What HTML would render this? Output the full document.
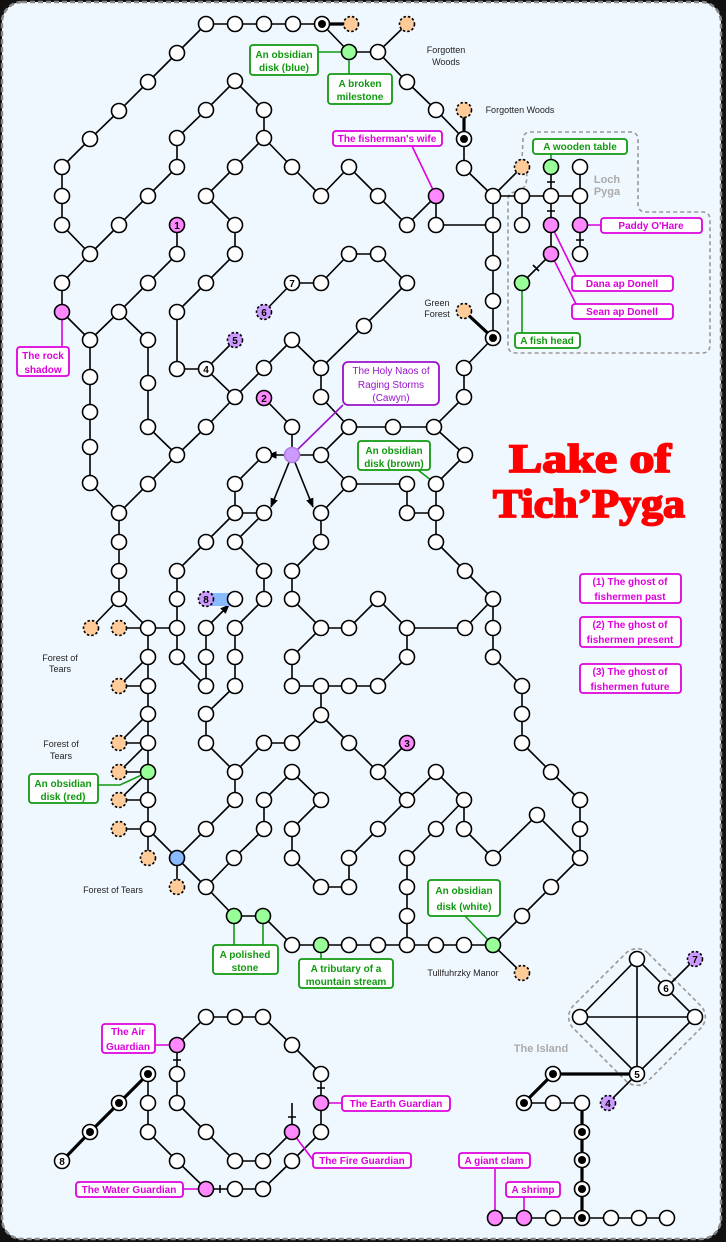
<!DOCTYPE html>
<html><head><meta charset="utf-8"><style>
html,body{margin:0;padding:0;background:#fff;}
svg{display:block;}
circle{fill:#fff;stroke:#000;stroke-width:1.6;}
circle.p{fill:#ff88ff;}
circle.g{fill:#99ff99;}
circle.o{fill:#ffcc99;stroke-dasharray:2.5 2;}
circle.v{fill:#cc99ff;stroke-dasharray:2.5 2;}
circle.b{fill:#88bbff;}
circle.vp{fill:#cc99ff;stroke:#b080e0;}
circle.dot{fill:#000;stroke:none;}
.e{fill:none;stroke:#000;stroke-width:1.6;}
.t{fill:none;stroke:#000;stroke-width:3.2;}
text{font-family:"Liberation Sans",sans-serif;}
.n{font-size:10px;font-weight:bold;text-anchor:middle;}
.lp rect{fill:#fff;stroke:#dd00dd;stroke-width:1.8;}
.lp text{fill:#dd00dd;font-size:10px;font-weight:bold;text-anchor:middle;}
.lg rect{fill:#fff;stroke:#119911;stroke-width:1.8;}
.lg text{fill:#119911;font-size:10px;font-weight:bold;text-anchor:middle;}
.lv rect{fill:#fff;stroke:#9911cc;stroke-width:1.8;}
.lv text{fill:#9911cc;font-size:10px;text-anchor:middle;}
.pl{stroke:#dd00dd;stroke-width:1.6;fill:none;}
.gl{stroke:#119911;stroke-width:1.6;fill:none;}
.vl{stroke:#9911cc;stroke-width:1.6;fill:none;}
.pl2{font-size:9px;fill:#222;text-anchor:middle;}
text.title{font-family:"Liberation Serif",serif;font-weight:bold;font-size:40px;fill:#ff0000;stroke:#ff0000;stroke-width:1.8px;text-anchor:middle;}
</style></head><body>
<svg width="726" height="1242" viewBox="0 0 726 1242" xmlns="http://www.w3.org/2000/svg">
<defs><marker id="ar" viewBox="0 0 10 10" refX="9" refY="5" markerWidth="6" markerHeight="6" orient="auto"><path d="M0,1 L10,5 L0,9 z" fill="#000"/></marker></defs>
<rect x="0" y="0" width="726" height="1242" fill="#111"/>
<rect x="2" y="2" width="719" height="1237" rx="20" fill="#f0f8ff" stroke="#888" stroke-width="2.5" stroke-dasharray="5 3"/>

<path d="M516,192 C528,190 530,175 522,160 L523,140 Q523,132 531,132 L630,132 Q638,132 638,140 L638,204 Q638,212 646,212 L702,212 Q710,212 710,220 L710,345 Q710,353 702,353 L516,353 Q508,353 508,345 L508,200 Q508,192 516,192 Z" fill="none" stroke="#999" stroke-width="1.6" stroke-dasharray="4 3"/>
<text x="607" y="183" font-size="11" font-weight="bold" fill="#aaa" text-anchor="middle">Loch</text>
<text x="607" y="195" font-size="11" font-weight="bold" fill="#aaa" text-anchor="middle">Pyga</text>
<rect x="584" y="964" width="106" height="106" rx="16" transform="rotate(45 637 1017)" fill="none" stroke="#999" stroke-width="1.6" stroke-dasharray="4 3"/>
<text x="541" y="1052" font-size="11" font-weight="bold" fill="#aaa" text-anchor="middle">The Island</text>

<path class="e" d="M206,24 L322,24
M206,24 L177,53 L148,82 L119,111 L90,139 L62,167 L62,196 L62,225 L90,254 L62,283 L62,312 L90,340 L90,377 L90,412 L90,447 L90,483 L119,513 L119,542 L119,571 L119,599 L148,628 L177,628
M90,254 L119,225 L148,196 L177,167 L177,138 L206,110 L235,81 L264,110 L264,138 L235,167 L206,196 L235,225 L235,254 L206,283 L177,312 L177,369 L206,369 L235,340
M206,369 L235,397 L264,368 L292,340 L321,368 L321,397 L349,427 L393,427 L434,427 L464,397 L464,368 L493,338
M90,340 L119,312 L148,283 L177,254 L177,225
M119,312 L148,340 L148,383 L148,427 L177,455 L148,484 L119,513
M177,455 L206,427 L235,397
M264,138 L292,167 L321,196 L349,167 L378,196 L407,225 L436,196 L436,225 L493,225
M264,312 L292,283 L321,283 L349,254 L378,254 L407,283 L364,326 L321,368
M264,398 L292,427 L292,455 L321,455 L349,427
M321,455 L349,484 L407,484 L407,513 L436,513 L436,484 L465,455 L434,427
M349,484 L321,513 L321,542 L292,571 L292,599 L321,628 L349,628 L378,599 L407,628 L465,628 L493,599 L465,571 L436,542 L436,513
M407,628 L407,657 L378,686 L349,686 L321,686 L292,686 L292,657 L321,628
M321,686 L321,715 L292,743 L264,743 L235,772 L206,743 L206,714 L235,686 L235,657 L235,628 L264,599 L264,571 L235,542 L264,513 L235,513 L235,484 L264,455
M321,715 L349,743 L378,772 L407,743
M378,772 L407,800 L436,772 L464,800 L464,829 L493,858 L537,815 L580,858 L551,887 L522,916 L493,945
M464,800 L436,829 L407,858 L407,887 L407,916 L407,945
M493,599 L493,628 L493,657 L522,686 L522,714 L522,743 L551,772 L580,800 L580,829 L580,858
M493,945 L522,973
M177,858 L206,887 L234,916 L263,916 L292,945 L493,945
M148,628 L148,657 L148,686 L148,714 L148,743 L148,772 L148,800 L148,829 L177,858 L206,829 L235,800 L235,772
M206,887 L234,858 L264,829 L264,800 L292,772 L321,800 L292,829 L292,858 L321,887 L349,887 L349,858 L378,829 L407,800
M148,829 L148,858 M177,858 L177,887
M235,513 L206,542 L177,571 L177,599 L177,628 L177,657 L206,686 L206,657 L206,628
M119,599 L91,628 M119,628 L148,628
M119,686 L148,657 M119,686 L148,686 M119,743 L148,714 M119,743 L148,743 M119,772 L148,743 M119,772 L148,772 M119,800 L148,772 M119,800 L148,800 M119,829 L148,829
M493,338 L493,301 L493,263 L493,225 L493,196 L464,168 L464,139 L436,110 L407,82 L378,52 L407,24
M378,52 L349,52 L322,24
M493,196 L522,167 M493,196 L580,196 M522,196 L522,225
M551,167 L551,254 L522,283 M580,167 L580,254
M177,1045 L206,1017 L263,1017 L292,1045 L321,1074 L321,1132 L292,1161 L263,1189 L206,1189 L177,1161 L148,1132 L148,1074
M177,1045 L177,1103 L206,1132 L235,1161 L263,1161 L292,1132 L292,1103
M637,959 L580,1017 L637,1074 L695,1017 L637,959 L637,1074 M580,1017 L695,1017 M666,988 L695,959 M637,1074 L608,1103
M524,1103 L582,1103 M495,1218 L667,1218
M547,182 L555,182 M547,211 L555,211 M576,240 L584,240 M533,265 L539,271
M173,1060 L181,1060 M317,1088 L325,1088 M288,1117 L296,1117 M220,1185 L220,1193"/>
<path class="e" d="M292,455 L268,455" marker-end="url(#ar)"/>
<path class="e" d="M292,455 L271,507" marker-end="url(#ar)"/>
<path class="e" d="M292,455 L313,507" marker-end="url(#ar)"/>
<path class="e" d="M206,628 L229,605" marker-end="url(#ar)"/>
<path class="t" d="M322,24 L351,24 M464,110 L464,139 M464,311 L493,338 M148,1074 L119,1103 L90,1132 L62,1161 M637,1074 L553,1074 L524,1103 M582,1103 L582,1218"/>
<rect x="206" y="593" width="29" height="13" fill="#88bbff"/>

<path class="gl" d="M318,52 L349,52 M349,52 L349,74 M551,154 L551,167 M522,283 L522,333 M148,772 L120,785 L98,785 M234,916 L234,945 M263,916 L263,945 M321,945 L321,959 M465,916 L493,945 M418,470 L436,484"/>
<path class="pl" d="M412,146 L436,196 M62,312 L62,347 M580,225 L601,225 M551,225 L576,276 M551,254 L576,304 M155,1045 L177,1045 M321,1103 L342,1103 M292,1132 L313,1160 M183,1189 L206,1189 M495,1168 L495,1218 M524,1197 L524,1218"/>
<path class="vl" d="M292,455 L343,405"/>

<g>
<circle cx="206" cy="24" r="7.5"/><circle cx="235" cy="24" r="7.5"/><circle cx="264" cy="24" r="7.5"/><circle cx="293" cy="24" r="7.5"/><circle cx="322" cy="24" r="7.5"/><circle class="dot" cx="322" cy="24" r="4"/><circle class="o" cx="351" cy="24" r="7.5"/>
<circle cx="177" cy="53" r="7.5"/><circle cx="148" cy="82" r="7.5"/><circle cx="119" cy="111" r="7.5"/><circle cx="90" cy="139" r="7.5"/><circle cx="62" cy="167" r="7.5"/><circle cx="62" cy="196" r="7.5"/><circle cx="62" cy="225" r="7.5"/><circle cx="90" cy="254" r="7.5"/><circle cx="62" cy="283" r="7.5"/><circle class="p" cx="62" cy="312" r="7.5"/><circle cx="90" cy="340" r="7.5"/><circle cx="90" cy="377" r="7.5"/><circle cx="90" cy="412" r="7.5"/><circle cx="90" cy="447" r="7.5"/><circle cx="90" cy="483" r="7.5"/><circle cx="119" cy="513" r="7.5"/><circle cx="119" cy="542" r="7.5"/><circle cx="119" cy="571" r="7.5"/><circle cx="119" cy="599" r="7.5"/><circle class="o" cx="91" cy="628" r="7.5"/><circle class="o" cx="119" cy="628" r="7.5"/><circle cx="148" cy="628" r="7.5"/><circle cx="177" cy="628" r="7.5"/>
<circle cx="119" cy="225" r="7.5"/><circle cx="148" cy="196" r="7.5"/><circle cx="177" cy="167" r="7.5"/><circle cx="177" cy="138" r="7.5"/><circle cx="206" cy="110" r="7.5"/><circle cx="235" cy="81" r="7.5"/><circle cx="264" cy="110" r="7.5"/><circle cx="264" cy="138" r="7.5"/><circle cx="235" cy="167" r="7.5"/><circle cx="206" cy="196" r="7.5"/><circle cx="235" cy="225" r="7.5"/><circle cx="235" cy="254" r="7.5"/><circle cx="206" cy="283" r="7.5"/><circle cx="177" cy="312" r="7.5"/><circle cx="177" cy="369" r="7.5"/><circle cx="206" cy="369" r="7.5"/><circle class="v" cx="235" cy="340" r="7.5"/><circle cx="235" cy="397" r="7.5"/><circle cx="264" cy="368" r="7.5"/><circle cx="292" cy="340" r="7.5"/><circle cx="321" cy="368" r="7.5"/><circle cx="321" cy="397" r="7.5"/><circle cx="349" cy="427" r="7.5"/>
<circle cx="119" cy="312" r="7.5"/><circle cx="148" cy="283" r="7.5"/><circle cx="177" cy="254" r="7.5"/><circle class="p" cx="177" cy="225" r="7.5"/><circle cx="148" cy="340" r="7.5"/><circle cx="148" cy="383" r="7.5"/><circle cx="148" cy="427" r="7.5"/><circle cx="177" cy="455" r="7.5"/><circle cx="148" cy="484" r="7.5"/><circle cx="206" cy="427" r="7.5"/>
<circle cx="292" cy="167" r="7.5"/><circle cx="321" cy="196" r="7.5"/><circle cx="349" cy="167" r="7.5"/><circle cx="378" cy="196" r="7.5"/><circle cx="407" cy="225" r="7.5"/><circle class="p" cx="436" cy="196" r="7.5"/><circle cx="436" cy="225" r="7.5"/>
<circle class="v" cx="264" cy="312" r="7.5"/><circle cx="292" cy="283" r="7.5"/><circle cx="321" cy="283" r="7.5"/><circle cx="349" cy="254" r="7.5"/><circle cx="378" cy="254" r="7.5"/><circle cx="407" cy="283" r="7.5"/><circle cx="364" cy="326" r="7.5"/>
<circle class="p" cx="264" cy="398" r="7.5"/><circle cx="292" cy="427" r="7.5"/><circle class="vp" cx="292" cy="455" r="7.5"/><circle cx="321" cy="455" r="7.5"/><circle cx="349" cy="484" r="7.5"/><circle cx="407" cy="484" r="7.5"/><circle cx="407" cy="513" r="7.5"/><circle cx="436" cy="513" r="7.5"/><circle cx="436" cy="484" r="7.5"/><circle cx="465" cy="455" r="7.5"/><circle cx="393" cy="427" r="7.5"/><circle cx="434" cy="427" r="7.5"/><circle cx="464" cy="397" r="7.5"/><circle cx="464" cy="368" r="7.5"/><circle cx="493" cy="338" r="7.5"/><circle class="dot" cx="493" cy="338" r="4"/><circle class="o" cx="464" cy="311" r="7.5"/><circle cx="493" cy="301" r="7.5"/><circle cx="493" cy="263" r="7.5"/><circle cx="493" cy="225" r="7.5"/><circle cx="493" cy="196" r="7.5"/><circle cx="464" cy="168" r="7.5"/><circle cx="464" cy="139" r="7.5"/><circle class="dot" cx="464" cy="139" r="4"/><circle class="o" cx="464" cy="110" r="7.5"/><circle cx="436" cy="110" r="7.5"/><circle cx="407" cy="82" r="7.5"/><circle cx="378" cy="52" r="7.5"/><circle class="o" cx="407" cy="24" r="7.5"/><circle class="g" cx="349" cy="52" r="7.5"/>
<circle class="o" cx="522" cy="167" r="7.5"/><circle cx="522" cy="196" r="7.5"/><circle cx="551" cy="196" r="7.5"/><circle cx="580" cy="196" r="7.5"/><circle class="g" cx="551" cy="167" r="7.5"/><circle cx="580" cy="167" r="7.5"/><circle cx="522" cy="225" r="7.5"/><circle class="p" cx="551" cy="225" r="7.5"/><circle class="p" cx="580" cy="225" r="7.5"/><circle cx="580" cy="254" r="7.5"/><circle class="p" cx="551" cy="254" r="7.5"/><circle class="g" cx="522" cy="283" r="7.5"/>
<circle cx="264" cy="455" r="7.5"/><circle cx="235" cy="484" r="7.5"/><circle cx="235" cy="513" r="7.5"/><circle cx="264" cy="513" r="7.5"/><circle cx="206" cy="542" r="7.5"/><circle cx="177" cy="571" r="7.5"/><circle cx="177" cy="599" r="7.5"/><circle cx="177" cy="657" r="7.5"/><circle cx="206" cy="686" r="7.5"/><circle cx="206" cy="657" r="7.5"/><circle cx="206" cy="628" r="7.5"/><circle class="v" cx="206" cy="599" r="7.5"/><circle cx="235" cy="599" r="7.5"/><circle cx="235" cy="542" r="7.5"/><circle cx="264" cy="571" r="7.5"/><circle cx="264" cy="599" r="7.5"/><circle cx="235" cy="628" r="7.5"/><circle cx="235" cy="657" r="7.5"/><circle cx="235" cy="686" r="7.5"/><circle cx="206" cy="714" r="7.5"/><circle cx="206" cy="743" r="7.5"/><circle cx="235" cy="772" r="7.5"/><circle cx="235" cy="800" r="7.5"/><circle cx="206" cy="829" r="7.5"/><circle class="b" cx="177" cy="858" r="7.5"/><circle class="o" cx="177" cy="887" r="7.5"/><circle cx="206" cy="887" r="7.5"/><circle cx="234" cy="858" r="7.5"/><circle cx="264" cy="829" r="7.5"/><circle cx="264" cy="800" r="7.5"/><circle cx="264" cy="743" r="7.5"/><circle cx="292" cy="743" r="7.5"/><circle cx="321" cy="715" r="7.5"/><circle cx="292" cy="772" r="7.5"/><circle cx="321" cy="800" r="7.5"/><circle cx="292" cy="829" r="7.5"/><circle cx="292" cy="858" r="7.5"/><circle cx="321" cy="887" r="7.5"/><circle cx="349" cy="887" r="7.5"/><circle cx="349" cy="858" r="7.5"/><circle cx="378" cy="829" r="7.5"/><circle cx="407" cy="800" r="7.5"/><circle cx="436" cy="772" r="7.5"/><circle cx="464" cy="800" r="7.5"/><circle cx="464" cy="829" r="7.5"/><circle cx="436" cy="829" r="7.5"/><circle cx="407" cy="858" r="7.5"/><circle cx="407" cy="887" r="7.5"/><circle cx="407" cy="916" r="7.5"/><circle cx="407" cy="945" r="7.5"/><circle cx="378" cy="772" r="7.5"/><circle class="p" cx="407" cy="743" r="7.5"/><circle cx="349" cy="743" r="7.5"/>
<circle cx="321" cy="513" r="7.5"/><circle cx="321" cy="542" r="7.5"/><circle cx="292" cy="571" r="7.5"/><circle cx="292" cy="599" r="7.5"/><circle cx="321" cy="628" r="7.5"/><circle cx="349" cy="628" r="7.5"/><circle cx="378" cy="599" r="7.5"/><circle cx="407" cy="628" r="7.5"/><circle cx="465" cy="628" r="7.5"/><circle cx="493" cy="599" r="7.5"/><circle cx="465" cy="571" r="7.5"/><circle cx="436" cy="542" r="7.5"/><circle cx="407" cy="657" r="7.5"/><circle cx="378" cy="686" r="7.5"/><circle cx="349" cy="686" r="7.5"/><circle cx="321" cy="686" r="7.5"/><circle cx="292" cy="686" r="7.5"/><circle cx="292" cy="657" r="7.5"/><circle cx="493" cy="628" r="7.5"/><circle cx="493" cy="657" r="7.5"/><circle cx="522" cy="686" r="7.5"/><circle cx="522" cy="714" r="7.5"/><circle cx="522" cy="743" r="7.5"/><circle cx="551" cy="772" r="7.5"/><circle cx="580" cy="800" r="7.5"/><circle cx="580" cy="829" r="7.5"/><circle cx="580" cy="858" r="7.5"/><circle cx="537" cy="815" r="7.5"/><circle cx="493" cy="858" r="7.5"/><circle cx="551" cy="887" r="7.5"/><circle cx="522" cy="916" r="7.5"/><circle class="g" cx="493" cy="945" r="7.5"/><circle class="o" cx="522" cy="973" r="7.5"/><circle cx="464" cy="945" r="7.5"/><circle cx="436" cy="945" r="7.5"/><circle cx="378" cy="945" r="7.5"/><circle cx="349" cy="945" r="7.5"/><circle class="g" cx="321" cy="945" r="7.5"/><circle cx="292" cy="945" r="7.5"/><circle class="g" cx="263" cy="916" r="7.5"/><circle class="g" cx="234" cy="916" r="7.5"/>
<circle cx="148" cy="657" r="7.5"/><circle cx="148" cy="686" r="7.5"/><circle cx="148" cy="714" r="7.5"/><circle cx="148" cy="743" r="7.5"/><circle class="g" cx="148" cy="772" r="7.5"/><circle cx="148" cy="800" r="7.5"/><circle cx="148" cy="829" r="7.5"/><circle class="o" cx="119" cy="686" r="7.5"/><circle class="o" cx="119" cy="743" r="7.5"/><circle class="o" cx="119" cy="772" r="7.5"/><circle class="o" cx="119" cy="800" r="7.5"/><circle class="o" cx="119" cy="829" r="7.5"/><circle class="o" cx="148" cy="858" r="7.5"/>
<circle cx="206" cy="1017" r="7.5"/><circle cx="235" cy="1017" r="7.5"/><circle cx="263" cy="1017" r="7.5"/><circle cx="292" cy="1045" r="7.5"/><circle cx="321" cy="1074" r="7.5"/><circle class="p" cx="321" cy="1103" r="7.5"/><circle cx="321" cy="1132" r="7.5"/><circle cx="292" cy="1161" r="7.5"/><circle cx="263" cy="1189" r="7.5"/><circle cx="235" cy="1189" r="7.5"/><circle class="p" cx="206" cy="1189" r="7.5"/><circle cx="177" cy="1161" r="7.5"/><circle cx="148" cy="1132" r="7.5"/><circle cx="148" cy="1103" r="7.5"/><circle cx="148" cy="1074" r="7.5"/><circle class="dot" cx="148" cy="1074" r="4"/><circle cx="119" cy="1103" r="7.5"/><circle class="dot" cx="119" cy="1103" r="4"/><circle cx="90" cy="1132" r="7.5"/><circle class="dot" cx="90" cy="1132" r="4"/><circle cx="62" cy="1161" r="7.5"/><circle class="p" cx="177" cy="1045" r="7.5"/><circle cx="177" cy="1074" r="7.5"/><circle cx="177" cy="1103" r="7.5"/><circle cx="206" cy="1132" r="7.5"/><circle cx="235" cy="1161" r="7.5"/><circle cx="263" cy="1161" r="7.5"/><circle class="p" cx="292" cy="1132" r="7.5"/>
<circle cx="637" cy="959" r="7.5"/><circle cx="666" cy="988" r="7.5"/><circle class="v" cx="695" cy="959" r="7.5"/><circle cx="580" cy="1017" r="7.5"/><circle cx="695" cy="1017" r="7.5"/><circle cx="637" cy="1074" r="7.5"/><circle class="v" cx="608" cy="1103" r="7.5"/>
<circle cx="553" cy="1074" r="7.5"/><circle class="dot" cx="553" cy="1074" r="4"/><circle cx="524" cy="1103" r="7.5"/><circle class="dot" cx="524" cy="1103" r="4"/><circle cx="553" cy="1103" r="7.5"/><circle cx="582" cy="1103" r="7.5"/>
<circle cx="582" cy="1132" r="7.5"/><circle class="dot" cx="582" cy="1132" r="4"/><circle cx="582" cy="1160" r="7.5"/><circle class="dot" cx="582" cy="1160" r="4"/><circle cx="582" cy="1189" r="7.5"/><circle class="dot" cx="582" cy="1189" r="4"/><circle cx="582" cy="1218" r="7.5"/><circle class="dot" cx="582" cy="1218" r="4"/>
<circle class="p" cx="495" cy="1218" r="7.5"/><circle class="p" cx="524" cy="1218" r="7.5"/><circle cx="553" cy="1218" r="7.5"/><circle cx="611" cy="1218" r="7.5"/><circle cx="639" cy="1218" r="7.5"/><circle cx="667" cy="1218" r="7.5"/>
</g>
<g class="n">
<text x="177" y="229">1</text><text x="264" y="402">2</text><text x="407" y="747">3</text><text x="206" y="373">4</text><text x="235" y="344">5</text><text x="264" y="316">6</text><text x="292" y="287">7</text><text x="206" y="603">8</text>
<text x="608" y="1107">4</text><text x="637" y="1078">5</text><text x="666" y="992">6</text><text x="695" y="963">7</text><text x="62" y="1165">8</text>
</g>

<g class="lg">
<rect x="250" y="45" width="68" height="30" rx="3"/><text x="284" y="58">An obsidian</text><text x="284" y="71">disk (blue)</text>
<rect x="328" y="74" width="64" height="30" rx="3"/><text x="360" y="87">A broken</text><text x="360" y="100">milestone</text>
<rect x="533" y="139" width="94" height="15" rx="3"/><text x="580" y="150">A wooden table</text>
<rect x="515" y="333" width="65" height="15" rx="3"/><text x="547" y="344">A fish head</text>
<rect x="358" y="441" width="72" height="29" rx="3"/><text x="394" y="454">An obsidian</text><text x="394" y="467">disk (brown)</text>
<rect x="29" y="774" width="69" height="29" rx="3"/><text x="63" y="787">An obsidian</text><text x="63" y="800">disk (red)</text>
<rect x="213" y="945" width="65" height="29" rx="3"/><text x="245" y="958">A polished</text><text x="245" y="971">stone</text>
<rect x="299" y="959" width="94" height="29" rx="3"/><text x="346" y="972">A tributary of a</text><text x="346" y="985">mountain stream</text>
<rect x="428" y="880" width="72" height="36" rx="3"/><text x="464" y="894">An obsidian</text><text x="464" y="910">disk (white)</text>
</g>
<g class="lp">
<rect x="333" y="131" width="109" height="15" rx="3"/><text x="387" y="142">The fisherman's wife</text>
<rect x="601" y="218" width="101" height="15" rx="3"/><text x="651" y="229">Paddy O'Hare</text>
<rect x="572" y="276" width="101" height="15" rx="3"/><text x="622" y="287">Dana ap Donell</text>
<rect x="572" y="304" width="101" height="15" rx="3"/><text x="622" y="315">Sean ap Donell</text>
<rect x="17" y="347" width="52" height="29" rx="3"/><text x="43" y="359">The rock</text><text x="43" y="373">shadow</text>
<rect x="580" y="574" width="101" height="29" rx="3"/><text x="630" y="585">(1) The ghost of</text><text x="630" y="600">fishermen past</text>
<rect x="580" y="617" width="101" height="30" rx="3"/><text x="630" y="628">(2) The ghost of</text><text x="630" y="643">fishermen present</text>
<rect x="580" y="664" width="101" height="29" rx="3"/><text x="630" y="675">(3) The ghost of</text><text x="630" y="690">fishermen future</text>
<rect x="102" y="1024" width="53" height="29" rx="3"/><text x="128" y="1035">The Air</text><text x="128" y="1050">Guardian</text>
<rect x="342" y="1096" width="108" height="15" rx="3"/><text x="396" y="1107">The Earth Guardian</text>
<rect x="313" y="1153" width="98" height="15" rx="3"/><text x="362" y="1164">The Fire Guardian</text>
<rect x="76" y="1182" width="107" height="15" rx="3"/><text x="129" y="1193">The Water Guardian</text>
<rect x="459" y="1153" width="71" height="15" rx="3"/><text x="494" y="1164">A giant clam</text>
<rect x="506" y="1182" width="54" height="15" rx="3"/><text x="533" y="1193">A shrimp</text>
</g>
<g class="lv">
<rect x="343" y="362" width="96" height="43" rx="5"/><text x="391" y="374">The Holy Naos of</text><text x="391" y="388">Raging Storms</text><text x="391" y="401">(Cawyn)</text>
</g>
<g class="pl2">
<text x="446" y="53">Forgotten</text><text x="446" y="65">Woods</text>
<text x="520" y="113">Forgotten Woods</text>
<text x="437" y="306">Green</text><text x="437" y="317">Forest</text>
<text x="60" y="661">Forest of</text><text x="60" y="672">Tears</text>
<text x="61" y="747">Forest of</text><text x="61" y="759">Tears</text>
<text x="113" y="893">Forest of Tears</text>
<text x="463" y="976">Tullfuhrzky Manor</text>
</g>
<text class="title" style="font-family:'Liberation Serif',serif;" x="590" y="472" textLength="162" lengthAdjust="spacingAndGlyphs">Lake of</text>
<text class="title" style="font-family:'Liberation Serif',serif;" x="589" y="517" textLength="192" lengthAdjust="spacingAndGlyphs">Tich’Pyga</text>
</svg>
</body></html>
